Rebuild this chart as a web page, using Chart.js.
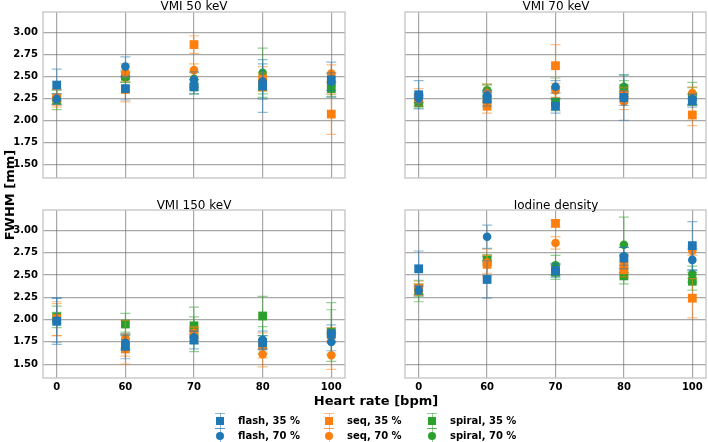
<!DOCTYPE html>
<html>
<head>
<meta charset="utf-8">
<script src="https://cdn.jsdelivr.net/npm/chart.js@4"></script>
<style>
body { margin: 0; background: #fff; font-family: "DejaVu Sans", sans-serif; }
#fig { position: relative; width: 708px; height: 442px; overflow: hidden; background: #fff; }
#fig canvas { position: absolute; }
.ttl { position: absolute; font-size: 12px; line-height: 14px; text-align: center; width: 302px; color: #000; }
.lbl { position: absolute; font-size: 13px; font-weight: bold; line-height: 16px; text-align: center; color: #000; }
.leg { position: absolute; font-size: 10px; font-weight: bold; line-height: 12px; color: #000; white-space: nowrap; }
.ico { position: absolute; width: 12px; height: 16px; }
.ico .bar { position: absolute; left: 5.5px; top: 0; width: 1px; height: 16px; }
.ico .cap { position: absolute; left: 1px; width: 10px; height: 1px; }
.ico .mk { position: absolute; left: 2px; top: 4px; width: 8px; height: 8px; }
</style>
</head>
<body>
<div id="fig">
  <canvas id="c50" width="350" height="190" style="left:0;top:0"></canvas>
  <canvas id="c70" width="348" height="190" style="left:360px;top:0"></canvas>
  <canvas id="c150" width="350" height="210" style="left:0;top:190px"></canvas>
  <canvas id="cIod" width="348" height="210" style="left:360px;top:190px"></canvas>

  <div class="ttl" style="left:43px;top:-1px">VMI 50 keV</div>
  <div class="ttl" style="left:405px;top:-1px">VMI 70 keV</div>
  <div class="ttl" style="left:43px;top:198px">VMI 150 keV</div>
  <div class="ttl" style="left:405px;top:198px">Iodine density</div>

  <div class="lbl" style="left:-90px;top:187px;width:200px;transform:rotate(-90deg)">FWHM [mm]</div>
  <div class="lbl" style="left:276px;top:393px;width:200px">Heart rate [bpm]</div>
  <div id="legend"></div>
</div>

<script>
// x categories and y ticks
const categories = ['0', '60', '70', '80', '100'];
const yTicks = [1.50, 1.75, 2.00, 2.25, 2.50, 2.75, 3.00];

const seriesNames = ['flash, 35 %', 'flash, 70 %', 'seq, 35 %', 'seq, 70 %', 'spiral, 35 %', 'spiral, 70 %'];

// VMI 50 keV
const vmi50_flash35 = [2.40, 2.36, 2.38, 2.39, 2.46];
const vmi50_flash35_err = [0.18, 0.13, 0.08, 0.30, 0.20];
const vmi50_flash70 = [2.24, 2.61, 2.46, 2.44, 2.44];
const vmi50_flash70_err = [0.06, 0.11, 0.09, 0.20, 0.10];
const vmi50_seq35 = [2.25, 2.35, 2.86, 2.47, 2.07];
const vmi50_seq35_err = [0.10, 0.14, 0.10, 0.14, 0.23];
const vmi50_seq70 = [2.26, 2.54, 2.57, 2.44, 2.53];
const vmi50_seq70_err = [0.09, 0.10, 0.07, 0.10, 0.10];
const vmi50_spiral35 = [2.23, 2.50, 2.38, 2.38, 2.36];
const vmi50_spiral35_err = [0.11, 0.07, 0.08, 0.08, 0.07];
const vmi50_spiral70 = [2.24, 2.49, 2.47, 2.54, 2.40];
const vmi50_spiral70_err = [0.06, 0.06, 0.07, 0.28, 0.13];

// VMI 70 keV
const vmi70_flash35 = [2.29, 2.24, 2.16, 2.26, 2.22];
const vmi70_flash35_err = [0.16, 0.08, 0.08, 0.26, 0.07];
const vmi70_flash70 = [2.25, 2.28, 2.38, 2.25, 2.24];
const vmi70_flash70_err = [0.05, 0.06, 0.07, 0.08, 0.06];
const vmi70_seq35 = [2.26, 2.16, 2.62, 2.29, 2.06];
const vmi70_seq35_err = [0.10, 0.08, 0.24, 0.08, 0.12];
const vmi70_seq70 = [2.24, 2.31, 2.34, 2.21, 2.31];
const vmi70_seq70_err = [0.04, 0.10, 0.08, 0.09, 0.07];
const vmi70_spiral35 = [2.20, 2.30, 2.21, 2.36, 2.27];
const vmi70_spiral35_err = [0.06, 0.10, 0.10, 0.09, 0.10];
const vmi70_spiral70 = [2.22, 2.34, 2.36, 2.38, 2.30];
const vmi70_spiral70_err = [0.06, 0.07, 0.12, 0.13, 0.13];

// VMI 150 keV
const vmi150_flash35 = [1.98, 1.70, 1.77, 1.74, 1.84];
const vmi150_flash35_err = [0.26, 0.14, 0.10, 0.08, 0.10];
const vmi150_flash70 = [1.99, 1.74, 1.80, 1.77, 1.75];
const vmi150_flash70_err = [0.25, 0.08, 0.07, 0.10, 0.10];
const vmi150_seq35 = [2.01, 1.67, 1.84, 1.71, 1.83];
const vmi150_seq35_err = [0.19, 0.17, 0.08, 0.14, 0.08];
const vmi150_seq70 = [2.00, 1.79, 1.85, 1.61, 1.60];
const vmi150_seq70_err = [0.18, 0.20, 0.06, 0.14, 0.16];
const vmi150_spiral35 = [2.03, 1.95, 1.93, 2.04, 1.86];
const vmi150_spiral35_err = [0.12, 0.12, 0.10, 0.22, 0.33];
const vmi150_spiral70 = [2.02, 1.77, 1.89, 1.77, 1.86];
const vmi150_spiral70_err = [0.06, 0.09, 0.25, 0.15, 0.25];

// Iodine density
const iod_flash35 = [2.57, 2.45, 2.55, 2.69, 2.83];
const iod_flash35_err = [0.20, 0.21, 0.08, 0.12, 0.27];
const iod_flash70 = [2.33, 2.93, 2.56, 2.71, 2.67];
const iod_flash70_err = [0.05, 0.13, 0.06, 0.10, 0.12];
const iod_seq35 = [2.35, 2.62, 3.08, 2.56, 2.24];
const iod_seq35_err = [0.08, 0.10, 0.04, 0.08, 0.22];
const iod_seq70 = [2.34, 2.64, 2.86, 2.62, 2.77];
const iod_seq70_err = [0.06, 0.15, 0.07, 0.10, 0.05];
const iod_spiral35 = [2.32, 2.67, 2.53, 2.49, 2.43];
const iod_spiral35_err = [0.12, 0.06, 0.08, 0.09, 0.10];
const iod_spiral70 = [2.33, 2.66, 2.61, 2.84, 2.51];
const iod_spiral70_err = [0.07, 0.05, 0.11, 0.31, 0.09];

const colors = ['#1f77b4', '#1f77b4', '#ff7f0e', '#ff7f0e', '#2ca02c', '#2ca02c'];
const errColors = ['rgba(31,119,180,0.5)', 'rgba(31,119,180,0.5)', 'rgba(255,127,14,0.5)',
                   'rgba(255,127,14,0.5)', 'rgba(44,160,44,0.5)', 'rgba(44,160,44,0.5)'];
const shapes = ['rect', 'circle', 'rect', 'circle', 'rect', 'circle'];

const tickFont = { family: 'DejaVu Sans', size: 10, weight: 'bold' };
const gridColor = 'rgba(110,110,110,0.6)';

// error bars drawn just before each dataset, so later series cover earlier ones
const errorBars = {
    id: 'errorBars',
    beforeDatasetDraw(chart, args) {
        const ds = chart.data.datasets[args.index];
        const xs = chart.scales.x, ys = chart.scales.y;
        const ctx = chart.ctx;
        ctx.save();
        ctx.strokeStyle = ds.errColor;
        ctx.lineWidth = 1.2;
        ds.data.forEach((p, j) => {
            const x = xs.getPixelForValue(p.x);
            const lo = ys.getPixelForValue(p.y - ds.err[j]);
            const hi = ys.getPixelForValue(p.y + ds.err[j]);
            ctx.beginPath();
            ctx.moveTo(x, lo); ctx.lineTo(x, hi);
            ctx.moveTo(x - 5, lo); ctx.lineTo(x + 5, lo);
            ctx.moveTo(x - 5, hi); ctx.lineTo(x + 5, hi);
            ctx.stroke();
        });
        ctx.restore();
    }
};

// frame round the plot area
const frame = {
    id: 'frame',
    afterDraw(chart) {
        const a = chart.chartArea, ctx = chart.ctx;
        ctx.save();
        ctx.strokeStyle = '#c4c4c4';
        ctx.lineWidth = 1.3;
        ctx.strokeRect(a.left, a.top, a.right - a.left, a.bottom - a.top);
        ctx.restore();
    }
};

function makePanel(id, means, errs, o) {
    const datasets = means.map((m, i) => ({
        label: seriesNames[i],
        data: m.map((v, j) => ({ x: j, y: v })),
        err: errs[i],
        errColor: errColors[i],
        pointStyle: shapes[i],
        pointRadius: shapes[i] === 'rect' ? 6.2 : 4.3,
        pointBorderWidth: 0,
        backgroundColor: colors[i],
        borderColor: colors[i],
        showLine: false
    }));
    new Chart(document.getElementById(id), {
        type: 'scatter',
        data: { datasets },
        plugins: [errorBars, frame],
        options: {
            responsive: false,
            animation: false,
            layout: { autoPadding: false, padding: { left: 0, right: o.padRight, top: o.padTop, bottom: 0 } },
            plugins: { legend: { display: false }, tooltip: { enabled: false } },
            scales: {
                x: {
                    type: 'linear', min: -0.2, max: 4.2,
                    afterBuildTicks: s => { s.ticks = categories.map((c, j) => ({ value: j })); },
                    afterFit: s => { s.height = o.xHeight; },
                    ticks: { display: o.showX, callback: (v, i) => categories[i], font: tickFont,
                             color: '#000', padding: 3, maxRotation: 0, autoSkip: false },
                    grid: { color: gridColor, lineWidth: 1.2, drawTicks: false },
                    border: { display: false }
                },
                y: {
                    min: 1.344, max: 3.23,
                    afterBuildTicks: s => { s.ticks = yTicks.map(v => ({ value: v })); },
                    afterFit: s => { s.width = o.yWidth; },
                    ticks: { display: o.showY, callback: v => v.toFixed(2), font: tickFont,
                             color: '#000', padding: 5 },
                    grid: { color: gridColor, lineWidth: 1.2, drawTicks: false },
                    border: { display: false }
                }
            }
        }
    });
}

makePanel('c50',
    [vmi50_flash35, vmi50_flash70, vmi50_seq35, vmi50_seq70, vmi50_spiral35, vmi50_spiral70],
    [vmi50_flash35_err, vmi50_flash70_err, vmi50_seq35_err, vmi50_seq70_err, vmi50_spiral35_err, vmi50_spiral70_err],
    { showX: false, showY: true, yWidth: 43, xHeight: 12, padTop: 12, padRight: 5 });
makePanel('c70',
    [vmi70_flash35, vmi70_flash70, vmi70_seq35, vmi70_seq70, vmi70_spiral35, vmi70_spiral70],
    [vmi70_flash35_err, vmi70_flash70_err, vmi70_seq35_err, vmi70_seq70_err, vmi70_spiral35_err, vmi70_spiral70_err],
    { showX: false, showY: false, yWidth: 45, xHeight: 12, padTop: 12, padRight: 2 });
makePanel('c150',
    [vmi150_flash35, vmi150_flash70, vmi150_seq35, vmi150_seq70, vmi150_spiral35, vmi150_spiral70],
    [vmi150_flash35_err, vmi150_flash70_err, vmi150_seq35_err, vmi150_seq70_err, vmi150_spiral35_err, vmi150_spiral70_err],
    { showX: true, showY: true, yWidth: 43, xHeight: 22, padTop: 20, padRight: 5 });
makePanel('cIod',
    [iod_flash35, iod_flash70, iod_seq35, iod_seq70, iod_spiral35, iod_spiral70],
    [iod_flash35_err, iod_flash70_err, iod_seq35_err, iod_seq70_err, iod_spiral35_err, iod_spiral70_err],
    { showX: true, showY: false, yWidth: 45, xHeight: 22, padTop: 20, padRight: 2 });

// legend, 3 columns x 2 rows
const legX = [214, 323, 426];
const legY = [413, 428];
const legend = document.getElementById('legend');
seriesNames.forEach((name, i) => {
    const col = Math.floor(i / 2), row = i % 2;
    const ico = document.createElement('div');
    ico.className = 'ico';
    ico.style.left = legX[col] + 'px';
    ico.style.top = legY[row] + 'px';
    ico.innerHTML =
        '<div class="bar" style="background:' + errColors[i] + '"></div>' +
        '<div class="cap" style="top:0;background:' + errColors[i] + '"></div>' +
        '<div class="cap" style="top:15px;background:' + errColors[i] + '"></div>' +
        '<div class="mk" style="background:' + colors[i] + ';border-radius:' +
        (shapes[i] === 'circle' ? '50%' : '0') + '"></div>';
    legend.appendChild(ico);
    const t = document.createElement('div');
    t.className = 'leg';
    t.style.left = (legX[col] + 24) + 'px';
    t.style.top = (legY[row] + 2) + 'px';
    t.textContent = name;
    legend.appendChild(t);
});
</script>
</body>
</html>
